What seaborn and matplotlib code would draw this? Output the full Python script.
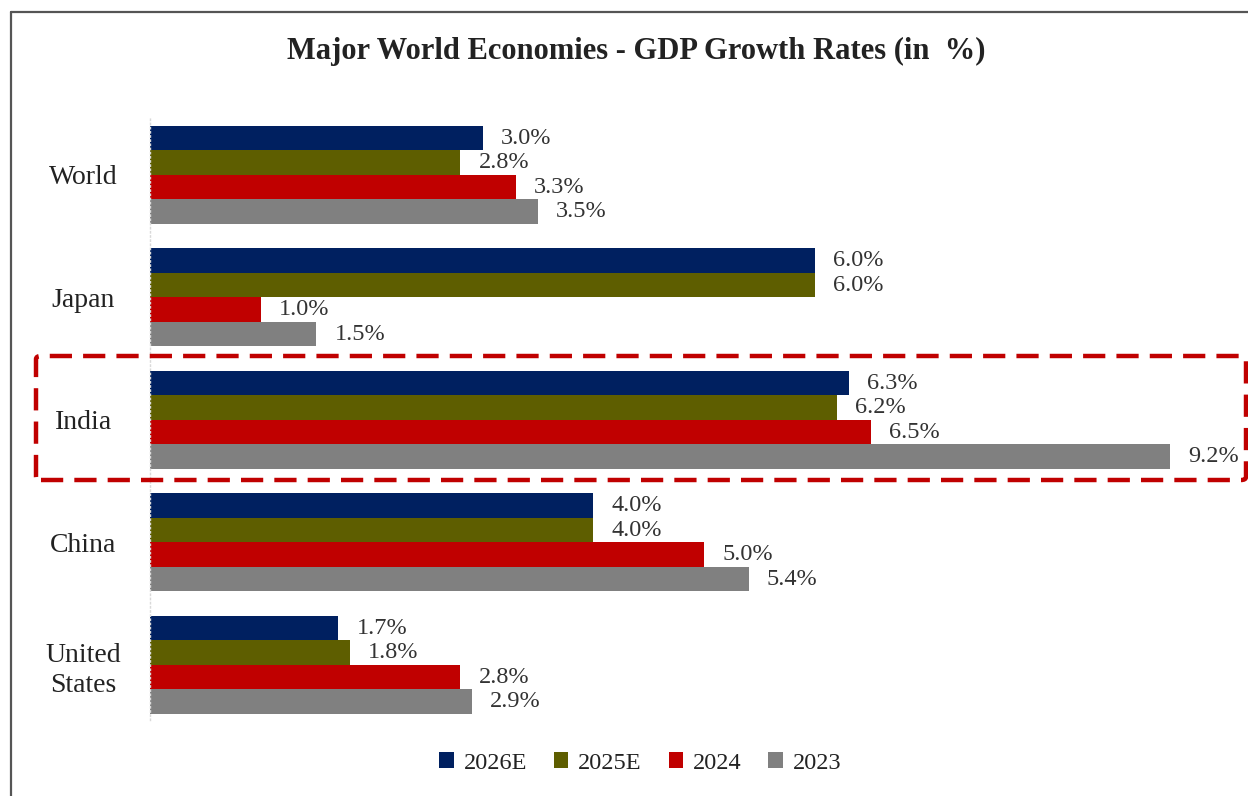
import matplotlib
matplotlib.use("Agg")
import matplotlib.pyplot as plt
from matplotlib.lines import Line2D
from matplotlib.patches import FancyBboxPatch
import seaborn as sns
import pandas as pd

# GDP growth rates (%) per economy and year
countries = ["World", "Japan", "India", "China", "United\nStates"]
years = ["2026E", "2025E", "2024", "2023"]
growth_2026e = [3.0, 6.0, 6.3, 4.0, 1.7]
growth_2025e = [2.8, 6.0, 6.2, 4.0, 1.8]
growth_2024 = [3.3, 1.0, 6.5, 5.0, 2.8]
growth_2023 = [3.5, 1.5, 9.2, 5.4, 2.9]
year_colors = ["#002060", "#5E5E00", "#C00000", "#808080"]

series = [growth_2026e, growth_2025e, growth_2024, growth_2023]
df = pd.DataFrame(
    [(c, y, v) for y, vals in zip(years, series) for c, v in zip(countries, vals)],
    columns=["country", "year", "growth"],
)

sns.set_theme(style="white")
plt.rcParams["font.family"] = ["Liberation Serif", "DejaVu Serif"]

W, H = 1248, 796
fig = plt.figure(figsize=(W / 100, H / 100), dpi=100)
ax = fig.add_axes([150 / W, 1 - 720 / H, 1035 / W, 602 / H])

sns.barplot(
    data=df, y="country", x="growth", hue="year", order=countries,
    hue_order=years, palette=year_colors, orient="h", width=0.8,
    saturation=1, linewidth=0, ax=ax, legend=True,
)

ax.set_xlim(0, 9.335)
ax.set_ylim(4.45, -0.465)
ax.set_xlabel("")
ax.set_ylabel("")
ax.set_xticks([])
ax.tick_params(axis="y", length=0, pad=48, labelsize=20, labelcolor="#222222")
for lbl in ax.get_yticklabels():
    lbl.set_horizontalalignment("center")
    lbl.set_linespacing(1.25)
for side in ["top", "right", "bottom"]:
    ax.spines[side].set_visible(False)
ax.spines["left"].set_color("#d9d9d9")
ax.spines["left"].set_linestyle((0, (1, 2)))
ax.spines["left"].set_linewidth(1)

for cont in ax.containers:
    ax.bar_label(cont, fmt="%.1f%%", padding=13, fontsize=17.5, color="#333333")

# Legend under the bars
handles, labels = ax.get_legend_handles_labels()
ax.get_legend().remove()
fig.legend(
    handles, labels, loc="center", bbox_to_anchor=(0.513, 1 - 763 / H), ncol=4,
    frameon=False, fontsize=17.5, handlelength=0.6, handleheight=0.6,
    handletextpad=0.4, columnspacing=1.1, labelcolor="#222222",
)

fig.text(0.51, 1 - 51 / H, "Major World Economies - GDP Growth Rates (in  %)",
         ha="center", va="center", fontsize=22, fontweight="bold", color="#222222")

# Dashed highlight around India
fig.add_artist(FancyBboxPatch(
    (36 / W, 1 - 480 / H), 1210 / W, 124 / H,
    boxstyle="round,pad=0,rounding_size=0.004", transform=fig.transFigure,
    fill=False, edgecolor="#C00000", linewidth=3.2, linestyle=(0, (5, 2.5)),
))

# Page frame lines
fig.add_artist(Line2D([11 / W, 1], [1 - 12 / H, 1 - 12 / H], color="#555555",
                      linewidth=1.6, transform=fig.transFigure))
fig.add_artist(Line2D([11 / W, 11 / W], [0, 1 - 12 / H], color="#555555",
                      linewidth=1.6, transform=fig.transFigure))

fig.savefig("out.png", dpi=100, facecolor="white")
